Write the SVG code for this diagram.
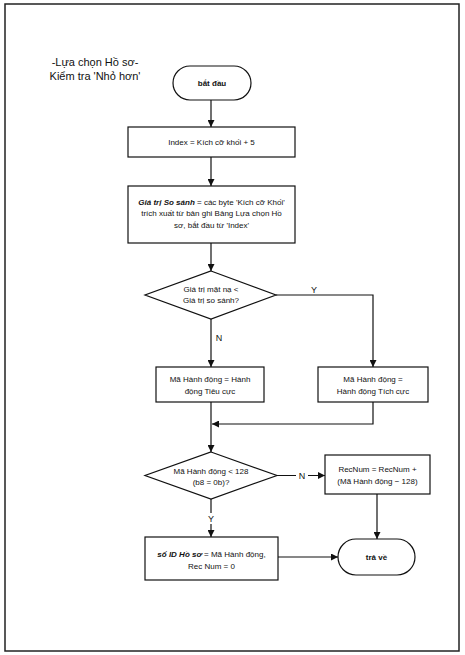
<svg xmlns="http://www.w3.org/2000/svg" width="465" height="655" viewBox="0 0 465 655">
<defs>
<marker id="ah" viewBox="0 0 10 10" refX="10" refY="5" markerWidth="7" markerHeight="7" markerUnits="userSpaceOnUse" orient="auto">
<path d="M0,0 L10,5 L0,10 z" fill="#111"/>
</marker>
<style>
.s{fill:#fff;stroke:#111;stroke-width:1.2}
.c{fill:none;stroke:#111;stroke-width:1.2}
text{font-family:"Liberation Sans",Arial,sans-serif;font-size:8px;fill:#111;text-anchor:middle}
.t{font-size:11px}
.l{font-size:9px}
.bi{font-weight:bold;font-style:italic}
.b{font-weight:bold}
</style>
</defs>
<rect x="0" y="0" width="465" height="655" fill="#fff"/>
<rect x="5" y="4" width="454" height="647" fill="none" stroke="#222" stroke-width="1.5"/>
<g id="title">
<text class="t" x="95" y="66">-Lựa chọn Hồ sơ-</text>
<text class="t" x="95" y="80">Kiểm tra 'Nhỏ hơn'</text>
</g>
<g id="connectors">
<path class="c" d="M211,100 V127" marker-end="url(#ah)"/>
<path class="c" d="M211,157 V186" marker-end="url(#ah)"/>
<path class="c" d="M211,243 V271" marker-end="url(#ah)"/>
<path class="c" d="M211,319 V367" marker-end="url(#ah)"/>
<path class="c" d="M276,295 H373 V367" marker-end="url(#ah)"/>
<path class="c" d="M211,402 V452" marker-end="url(#ah)"/>
<path class="c" d="M373,402 V424 H212" marker-end="url(#ah)"/>
<path class="c" d="M277,475.5 H325" marker-end="url(#ah)"/>
<path class="c" d="M211,499 V537" marker-end="url(#ah)"/>
<path class="c" d="M377,494 V539" marker-end="url(#ah)"/>
<path class="c" d="M278,557 H338" marker-end="url(#ah)"/>
<text class="l" x="314" y="293">Y</text>
<text class="l" x="219" y="341">N</text>
<rect x="296" y="470" width="12" height="11" fill="#fff"/>
<text class="l" x="302" y="479">N</text>
<rect x="206" y="513" width="10" height="11" fill="#fff"/>
<text class="l" x="211" y="522">Y</text>
</g>
<g id="start">
<rect class="s" x="173" y="66" width="78" height="34" rx="17"/>
<text class="b" x="212" y="86">bắt đầu</text>
</g>
<g id="index">
<rect class="s" x="128" y="127" width="167" height="30"/>
<text x="211.5" y="145">Index = Kích cỡ khối + 5</text>
</g>
<g id="compare">
<rect class="s" x="128" y="186" width="167" height="57"/>
<text x="211.5" y="205"><tspan class="bi">Giá trị So sánh</tspan> = các byte 'Kích cỡ Khối'</text>
<text x="211.5" y="216">trích xuất từ bản ghi Bảng Lựa chọn Hồ</text>
<text x="211.5" y="228">sơ, bắt đầu từ 'Index'</text>
</g>
<g id="decision1">
<polygon class="s" points="211,271 276,295 211,319 145,295"/>
<text x="211" y="292">Giá trị mặt nạ &lt;</text>
<text x="211" y="303">Giá trị so sánh?</text>
</g>
<g id="negative">
<rect class="s" x="156" y="367" width="108" height="35"/>
<text x="210" y="382">Mã Hành động = Hành</text>
<text x="210" y="394">động Tiêu cực</text>
</g>
<g id="positive">
<rect class="s" x="318" y="367" width="110" height="35"/>
<text x="373" y="382">Mã Hành động =</text>
<text x="373" y="394">Hành động Tích cực</text>
</g>
<g id="decision2">
<polygon class="s" points="211,452 277,475.5 211,499 145,475.5"/>
<text x="211" y="474">Mã Hành động &lt; 128</text>
<text x="211" y="485">(b8 = 0b)?</text>
</g>
<g id="recnum">
<rect class="s" x="325" y="455" width="105" height="39"/>
<text x="377.5" y="472">RecNum = RecNum +</text>
<text x="377.5" y="484">(Mã Hành động − 128)</text>
</g>
<g id="assign">
<rect class="s" x="145" y="537" width="133" height="43"/>
<text x="211.5" y="557"><tspan class="bi">số ID Hồ sơ</tspan> = Mã Hành động,</text>
<text x="211.5" y="569">Rec Num = 0</text>
</g>
<g id="return">
<rect class="s" x="338" y="539" width="77" height="36" rx="18"/>
<text class="b" x="376.5" y="560">trả về</text>
</g>
</svg>
